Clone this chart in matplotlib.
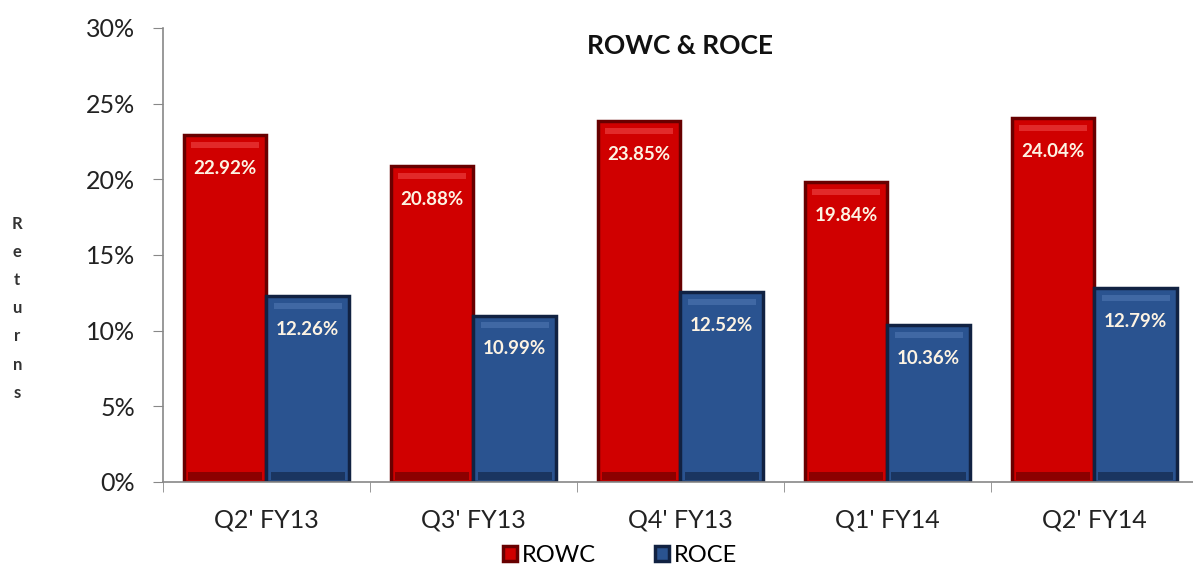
import numpy as np
import matplotlib.pyplot as plt
from matplotlib.ticker import FuncFormatter, FixedLocator

quarters = ["Q2' FY13", "Q3' FY13", "Q4' FY13", "Q1' FY14", "Q2' FY14"]
rowc = [22.92, 20.88, 23.85, 19.84, 24.04]
roce = [12.26, 10.99, 12.52, 10.36, 12.79]

plt.rcParams['font.family'] = ['Lato', 'DejaVu Sans']

fig = plt.figure(figsize=(11.93, 5.71), dpi=100)
ax = fig.add_axes([0.1366, 0.156, 0.8674, 0.795])

x = np.arange(len(quarters))
w = 0.4
red, red_edge = '#d00000', '#680000'
blue, blue_edge = '#2a5390', '#112242'

b1 = ax.bar(x - w/2, rowc, w, color=red, edgecolor=red_edge, linewidth=2.5, label='ROWC', zorder=2)
b2 = ax.bar(x + w/2, roce, w, color=blue, edgecolor=blue_edge, linewidth=2.5, label='ROCE', zorder=2)

# bevel: light strip under the top edge, dark band at the base
for xs, vals, hi, lo in ((x - w/2, rowc, '#e22a2a', '#8c0000'),
                         (x + w/2, roce, '#4068a4', '#1a3560')):
    ax.bar(xs, 0.4, w*0.82, bottom=np.array(vals) - 0.85, color=hi, linewidth=0, zorder=3)
    ax.bar(xs, 0.5, w*0.9, bottom=0.15, color=lo, linewidth=0, zorder=3)

for bars, vals in ((b1, rowc), (b2, roce)):
    for r, v in zip(bars, vals):
        ax.annotate(f"{v:.2f}%", xy=(r.get_x() + r.get_width()/2, v), xytext=(0, -24),
                    textcoords='offset points', ha='center', va='center',
                    color='#fdf3e3', fontsize=13.5, fontweight='bold', zorder=4)

ax.set_xlim(-0.5, 4.5)
ax.set_ylim(0, 30)
ax.set_yticks(np.arange(0, 31, 5))
ax.yaxis.set_major_formatter(FuncFormatter(lambda v, p: f"{v:.0f}%"))
ax.set_xticks(x)
ax.set_xticklabels(quarters)
ax.xaxis.set_minor_locator(FixedLocator(np.arange(-0.5, 5, 1)))
ax.tick_params(axis='x', which='major', length=0, pad=19, labelsize=18, labelcolor='#222222')
ax.tick_params(axis='x', which='minor', length=7, color='#888888', direction='out')
ax.tick_params(axis='y', length=7, color='#888888', pad=13, labelsize=18, labelcolor='#222222')

for s in ('top', 'right'):
    ax.spines[s].set_visible(False)
for s in ('left', 'bottom'):
    ax.spines[s].set_color('#888888')
    ax.spines[s].set_linewidth(1.2)

ax.set_title('ROWC & ROCE', fontsize=19, fontweight='bold', color='#111111', y=0.925)

fig.text(0.0145, 0.46, "\n".join("Returns"), ha='center', va='center',
         fontsize=12, fontweight='bold', color='#333333', linespacing=1.93)

fig.legend(handles=[b1, b2], labels=['ROWC', 'ROCE'], loc='center', bbox_to_anchor=(0.52, 0.028),
           ncol=2, frameon=False, fontsize=17, handlelength=0.6, handleheight=0.6,
           handletextpad=0.2, columnspacing=2.5)

fig.savefig('out.png', dpi=100)
